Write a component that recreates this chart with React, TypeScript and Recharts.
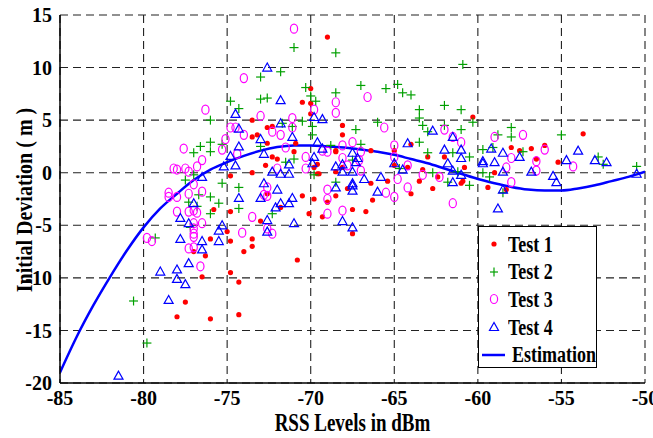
import React from "react";
import { ComposedChart, Scatter, Line, XAxis, YAxis, CartesianGrid } from "recharts";

const xTicks = [-85, -80, -75, -70, -65, -60, -55, -50];
const yTicks = [-20, -15, -10, -5, 0, 5, 10, 15];

// estimation curve, read every 1 dBm
const estX = [-85, -84, -83, -82, -81, -80, -79, -78, -77, -76, -75, -74, -73, -72, -71, -70, -69, -68, -67, -66, -65, -64, -63, -62, -61, -60, -59, -58, -57, -56, -55, -54, -53, -52, -51, -50];
const estY = [-19, -15.6, -12.6, -9.9, -7.4, -5.2, -3.4, -2.0, -0.7, 0.3, 1.0, 1.6, 2.1, 2.45, 2.6, 2.6, 2.5, 2.4, 2.2, 2.0, 1.7, 1.3, 0.9, 0.4, -0.1, -0.6, -1.0, -1.35, -1.6, -1.7, -1.7, -1.5, -1.2, -0.8, -0.4, 0.1];

const test1: [number, number][] = [
  [-69.0, 12.9], [-70.0, 8.0], [-70.5, 6.7], [-70.0, 6.6], [-70.0, 5.6], [-72.6, 4.3], [-72.3, 4.4], [-73.2, 3.6], [-72.6, 2.8], [-70.9, 2.8],
  [-68.1, 4.5], [-68.1, 3.6], [-68.5, 2.1], [-66.4, 2.1], [-72.3, 1.5], [-72.0, 1.3], [-72.7, 0.7], [-69.6, 0.8], [-68.1, 0.5], [-69.6, -0.1],
  [-68.5, 0.1], [-66.4, -1.0], [-73.5, 5.0], [-73.5, 3.4], [-74.8, -0.3], [-73.5, 0.0], [-60.3, 5.3], [-64.0, 2.7], [-63.0, 1.5], [-62.0, 1.5],
  [-63.3, 0.3], [-60.8, 0.5], [-60.9, -0.8], [-63.5, -0.8], [-65.4, -0.8], [-58.0, 2.4], [-59.4, -1.4], [-62.7, -1.5], [-53.7, 3.7], [-56.8, 2.3],
  [-56.0, 2.6], [-57.5, 2.1], [-56.5, 1.3], [-55.2, 1.0], [-59.0, 0.0], [-62.4, -0.4], [-64.2, 0.5], [-67.8, -1.5], [-64.0, -2.0], [-66.3, -2.6],
  [-65.0, 0.7], [-65.0, 2.1], [-66.7, -3.7], [-67.5, -3.5], [-67.5, -5.8], [-58.3, -1.6], [-70.5, -2.2], [-69.8, -2.5], [-70.1, -3.9], [-74.8, -3.7],
  [-73.0, -4.6], [-75.0, -5.6], [-76.0, -6.3], [-74.8, -6.5], [-73.5, -6.3], [-73.5, -7.0], [-74.0, -7.5], [-76.3, -7.9], [-70.8, -8.3], [-74.8, -9.5],
  [-76.5, -9.9], [-74.3, -10.4], [-74.3, -13.5], [-76.0, -13.9], [-71.8, -3.3], [-77.0, -7.5], [-77.5, -12.3], [-78.0, -13.7], [-75.8, -3.5], [-72.6, -2.0],
  [-69.3, -4.2], [-69.0, -2.8], [-68.5, -2.2], [-69.8, 0.5], [-69.5, -0.1], [-68.5, 2.0], [-71.0, 2.0], [-61.0, -1.0],
];

const test2: [number, number][] = [
  [-71.0, 11.9], [-68.5, 11.4], [-71.8, 9.6], [-73.0, 9.1], [-70.3, 8.1], [-68.5, 7.6], [-74.8, 6.8], [-74.3, 6.1], [-73.0, 7.0], [-72.6, 7.1],
  [-69.7, 6.8], [-70.0, 7.3], [-76.0, 5.0], [-70.5, 4.9], [-69.9, 4.4], [-69.9, 3.6], [-71.1, 4.4], [-71.7, 4.7], [-76.0, 2.9], [-76.6, 2.5],
  [-77.0, 1.9], [-76.0, 2.0], [-75.3, 2.7], [-73.0, 2.5], [-68.8, 2.6], [-71.5, 1.0], [-71.0, 1.3], [-77.5, -0.7], [-77.0, -0.2], [-75.3, -1.0],
  [-74.3, -1.4], [-69.8, -0.2], [-68.5, -0.9], [-76.0, -2.3], [-76.7, -2.1], [-60.9, 10.3], [-67.0, 8.3], [-65.5, 8.0], [-64.8, 8.4], [-64.5, 7.6],
  [-64.0, 7.4], [-62.0, 6.4], [-63.5, 6.0], [-61.0, 6.0], [-63.5, 5.2], [-66.0, 4.8], [-63.3, 4.5], [-62.0, 4.5], [-60.3, 4.8], [-67.3, 4.1],
  [-63.0, 3.9], [-61.0, 4.1], [-58.0, 4.3], [-58.0, 3.4], [-58.8, 3.6], [-55.0, 3.6], [-67.0, 2.7], [-63.5, 2.9], [-63.0, 1.9], [-61.5, 1.9],
  [-60.5, 1.5], [-59.7, 2.2], [-59.1, 2.4], [-57.3, 2.0], [-67.5, 1.2], [-64.7, 0.4], [-62.7, 0.0], [-61.2, 0.1], [-59.7, 0.0], [-59.3, -0.4],
  [-52.8, 1.5], [-52.5, 0.8], [-50.5, 0.6], [-61.8, -0.9], [-60.5, -1.2], [-58.5, -1.9], [-74.3, -3.4], [-75.5, -2.9], [-76.0, -3.9], [-77.3, -2.8],
  [-76.8, -3.2], [-72.3, -3.9], [-77.2, -5.2], [-79.3, -6.2], [-80.6, -12.2], [-79.8, -16.2],
];

const test3: [number, number][] = [
  [-71.0, 13.7], [-74.0, 9.0], [-76.3, 6.0], [-73.0, 5.4], [-68.5, 6.7], [-68.5, 5.7], [-69.8, 6.0], [-71.1, 5.2], [-71.1, 4.3], [-72.3, 3.9],
  [-71.8, 3.6], [-71.5, 2.4], [-68.1, 2.6], [-69.3, 2.1], [-69.0, 2.0], [-70.3, 1.5], [-68.1, 1.4], [-67.1, 1.2], [-70.3, 0.4], [-72.0, 0.4],
  [-67.0, 0.2], [-66.6, 7.2], [-65.6, 4.3], [-74.8, 4.3], [-74.5, 4.3], [-74.0, 3.6], [-75.1, 3.2], [-75.3, 2.2], [-74.4, 1.8], [-77.6, 2.3],
  [-76.5, 1.2], [-76.8, 0.6], [-78.2, 0.4], [-78.0, 0.3], [-77.5, 0.4], [-77.3, 0.1], [-77.0, -1.1], [-78.5, -1.9], [-78.5, -2.3], [-78.0, -2.3],
  [-77.3, -2.0], [-76.5, -1.8], [-78.0, -3.7], [-77.3, -3.7], [-76.8, -3.8], [-77.0, -3.6], [-77.0, -4.8], [-76.5, -4.8], [-77.0, -5.3], [-77.0, -5.8],
  [-77.0, -6.1], [-77.3, -7.2], [-77.0, -7.1], [-76.6, -8.9], [-79.8, -6.2], [-79.5, -6.5], [-74.1, -5.7], [-73.5, -4.2], [-72.6, -2.2], [-72.8, -2.1],
  [-72.3, -5.8], [-72.6, -5.3], [-69.0, -1.6], [-69.0, -2.5], [-69.0, -3.9], [-68.1, -3.6], [-72.6, -1.4], [-62.0, 4.1], [-61.5, 3.4], [-61.0, 2.9],
  [-59.0, 3.4], [-57.3, 3.6], [-67.5, 2.9], [-67.0, 2.0], [-65.0, 2.6], [-65.0, 1.5], [-64.2, 0.7], [-67.8, 0.7], [-58.0, 1.4], [-58.3, 0.5],
  [-56.5, 1.1], [-56.5, 0.2], [-56.0, 2.2], [-54.3, 0.6], [-63.3, -0.2], [-62.3, -0.4], [-64.8, -0.6], [-58.0, -0.9], [-65.5, -1.9], [-64.2, -1.4],
  [-65.0, -2.3], [-61.5, -2.9],
];

const test4: [number, number][] = [
  [-72.6, 10.0], [-71.8, 6.9], [-74.5, 5.6], [-74.3, 4.2], [-74.3, 2.5], [-73.0, 3.2], [-72.8, 1.8], [-71.8, 4.7], [-71.1, 3.4], [-71.3, 0.8],
  [-72.3, 0.1], [-71.8, -0.1], [-71.3, -0.1], [-69.8, 5.3], [-69.3, 5.1], [-69.6, 2.9], [-69.3, 2.3], [-69.9, 0.9], [-69.8, 1.5], [-74.8, 1.6],
  [-74.5, 0.7], [-75.2, 0.6], [-72.8, -1.0], [-72.0, -1.6], [-68.5, 0.6], [-68.1, 0.8], [-68.1, 0.1], [-67.5, 1.9], [-67.5, 0.1], [-67.5, -1.0],
  [-68.5, -1.4], [-67.2, 1.4], [-65.8, -0.4], [-66.8, -0.6], [-62.7, 4.0], [-64.2, 2.8], [-62.0, 2.2], [-61.5, 3.4], [-61.0, 2.2], [-61.0, 1.4],
  [-61.8, 0.9], [-59.7, 1.1], [-59.7, 0.9], [-59.0, 1.0], [-58.5, 1.9], [-58.5, 0.1], [-57.5, 1.5], [-56.8, 0.1], [-55.5, -0.3], [-55.3, -0.9],
  [-54.7, 1.2], [-54.0, 2.1], [-53.0, 1.2], [-52.3, 1.0], [-50.5, -0.1], [-58.5, -1.6], [-58.8, -3.4], [-61.5, -0.9], [-61.0, -0.2], [-67.3, 1.0],
  [-66.0, -1.8], [-65.0, 0.9], [-59.2, 2.3], [-61.5, 0.2], [-64.5, 0.3], [-67.5, -1.2], [-67.5, -1.7], [-68.1, -4.6], [-67.5, -5.2], [-76.5, -0.4],
  [-73.0, -2.4], [-74.3, -2.4], [-77.0, -2.9], [-71.8, -2.9], [-71.3, -2.9], [-71.1, -2.4], [-72.1, -3.3], [-72.6, -4.5], [-71.0, -4.8], [-72.6, -5.6],
  [-75.3, -5.0], [-75.5, -5.5], [-75.5, -6.5], [-76.5, -6.5], [-76.5, -7.3], [-77.8, -4.3], [-77.3, -4.8], [-77.8, -6.3], [-77.3, -8.6], [-78.0, -9.2],
  [-79.0, -9.4], [-78.0, -10.1], [-77.5, -10.6], [-78.5, -12.1], [-81.5, -19.3],
];

const seriesNames = ["Test 1", "Test 2", "Test 3", "Test 4", "Estimation"];

const toPts = (arr: [number, number][]) => arr.map(([x, y]) => ({ x, y }));
const estData = estX.map((x, i) => ({ x, y: estY[i] }));

const FONT = "'Liberation Serif', 'Times New Roman', serif";
const RED = "#ff0000";
const GREEN = "#00a000";
const MAGENTA = "#ff00ff";
const BLUE = "#0000ff";

const Dot = (p: any) => <circle cx={p.cx} cy={p.cy} r={2.6} fill={RED} />;
const Plus = (p: any) => (
  <g stroke={GREEN} strokeWidth={1.2}>
    <line x1={p.cx - 4.5} y1={p.cy} x2={p.cx + 4.5} y2={p.cy} />
    <line x1={p.cx} y1={p.cy - 4.5} x2={p.cx} y2={p.cy + 4.5} />
  </g>
);
const Ring = (p: any) => <ellipse cx={p.cx} cy={p.cy} rx={3.6} ry={4.5} fill="none" stroke={MAGENTA} strokeWidth={1.2} />;
const Tri = (p: any) => (
  <path d={`M${p.cx},${p.cy - 4.5} L${p.cx - 4.5},${p.cy + 3.5} L${p.cx + 4.5},${p.cy + 3.5} Z`} fill="none" stroke={BLUE} strokeWidth={1.2} />
);

const XTick = (p: any) => (
  <text x={p.x} y={p.y} dy="0.72em" textAnchor="middle" fontFamily={FONT} fontWeight="bold" fontSize={20} fill="#000">
    {p.payload.value}
  </text>
);
const YTick = (p: any) => (
  <text x={p.x} y={p.y} dy="0.36em" textAnchor="end" fontFamily={FONT} fontWeight="bold" fontSize={20} fill="#000">
    {p.payload.value}
  </text>
);

const markers = [
  <circle cx={8} cy={8} r={2.6} fill={RED} />,
  <g stroke={GREEN} strokeWidth={1.2}><line x1={4} y1={8} x2={12} y2={8} /><line x1={8} y1={3.5} x2={8} y2={12.5} /></g>,
  <ellipse cx={8} cy={8} rx={3.6} ry={4.5} fill="none" stroke={MAGENTA} strokeWidth={1.2} />,
  <path d="M8,3.5 L3.5,11.5 L12.5,11.5 Z" fill="none" stroke={BLUE} strokeWidth={1.2} />,
];

const LegendBox = () => (
  <div style={{ position: "absolute", left: 478, top: 226, width: 117, height: 140, border: "1.5px solid #000", background: "#fff", fontFamily: FONT, fontWeight: "bold", fontSize: 18 }}>
    {seriesNames.map((name, i) => (
      <div key={name} style={{ position: "absolute", left: 0, top: 4 + i * 27.7, height: 26, display: "flex", alignItems: "center" }}>
        {i < 4 ? (
          <svg width={16} height={16} style={{ marginLeft: 7, marginRight: 6 }}>{markers[i]}</svg>
        ) : (
          <svg width={24} height={16} style={{ marginLeft: 3, marginRight: 6 }}><line x1={0} y1={8} x2={23} y2={8} stroke={BLUE} strokeWidth={2.5} /></svg>
        )}
        <span style={{ display: "inline-block", transform: "scaleY(1.3)" }}>{name}</span>
      </div>
    ))}
  </div>
);

export default function App() {
  return (
    <div style={{ position: "absolute", left: 0, top: 0, width: 653, height: 438, background: "#fff" }}>
      <ComposedChart width={653} height={438} margin={{ top: 15, right: 8, bottom: 25, left: 10 }}>
        <CartesianGrid stroke="#222" strokeDasharray="8 5" strokeWidth={1.1} />
        <XAxis
          type="number"
          dataKey="x"
          domain={[-85, -50]}
          ticks={xTicks}
          allowDataOverflow
          height={30}
          axisLine={{ stroke: "#000", strokeWidth: 1.5 }}
          tickLine={false}
          tick={<XTick />}
          interval={0}
        />
        <YAxis
          type="number"
          dataKey="y"
          domain={[-20, 15]}
          ticks={yTicks}
          allowDataOverflow
          width={50}
          axisLine={{ stroke: "#000", strokeWidth: 1.5 }}
          tickLine={false}
          tick={<YTick />}
          interval={0}
        />
        <Scatter name={seriesNames[0]} data={toPts(test1)} dataKey="y" shape={Dot} isAnimationActive={false} />
        <Scatter name={seriesNames[1]} data={toPts(test2)} dataKey="y" shape={Plus} isAnimationActive={false} />
        <Scatter name={seriesNames[2]} data={toPts(test3)} dataKey="y" shape={Ring} isAnimationActive={false} />
        <Scatter name={seriesNames[3]} data={toPts(test4)} dataKey="y" shape={Tri} isAnimationActive={false} />
        <Line name={seriesNames[4]} data={estData} dataKey="y" type="monotone" stroke={BLUE} strokeWidth={2.5} dot={false} isAnimationActive={false} />
      </ComposedChart>
      <LegendBox />
      <div style={{ position: "absolute", left: 0, width: 705, top: 412, textAlign: "center", fontFamily: FONT, fontWeight: "bold", fontSize: 19, transform: "scaleY(1.3)" }}>
        RSS Levels in dBm
      </div>
      <div style={{ position: "absolute", left: 25, top: 200, width: 0, height: 0 }}>
        <div style={{ position: "absolute", left: 0, top: 0, transform: "translate(-50%, -50%) rotate(-90deg) scaleY(1.15)", whiteSpace: "nowrap", fontFamily: FONT, fontWeight: "bold", fontSize: 20 }}>
          Initial Deviation ( m )
        </div>
      </div>
    </div>
  );
}
